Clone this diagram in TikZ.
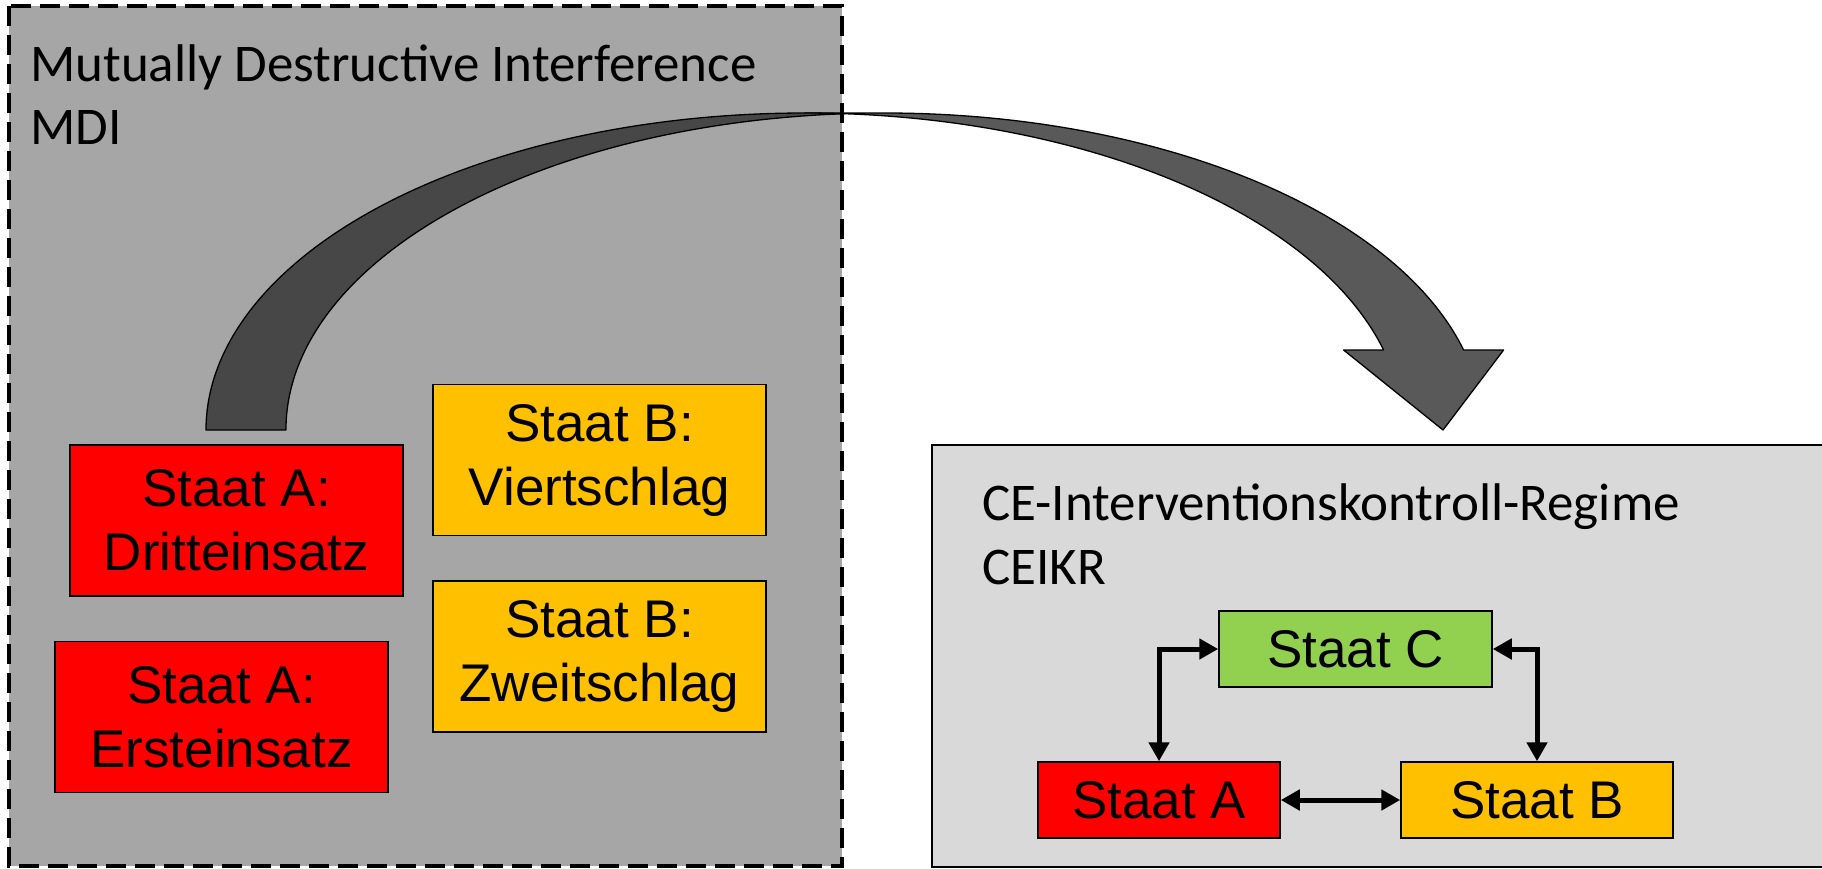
\documentclass[tikz,border=0pt]{standalone}
\usepackage{fontspec}
\setmainfont{Carlito}
\newfontfamily\arialfont{Liberation Sans}
\usetikzlibrary{arrows.meta}
\definecolor{mdigray}{HTML}{A6A6A6}
\definecolor{ceigray}{HTML}{D9D9D9}
\definecolor{staatred}{HTML}{FF0000}
\definecolor{staatyellow}{HTML}{FFC000}
\definecolor{staatgreen}{HTML}{92D050}
\definecolor{arrowfront}{HTML}{595959}
\definecolor{arrowback}{HTML}{474747}
\begin{document}
\begin{tikzpicture}[x=1pt,y=-1pt,
  statebox/.style={draw=black, line width=1.5pt, inner sep=0pt, align=center, font=\arialfont\fontsize{53}{64}\selectfont},
  bigbox/.style={statebox, minimum width=333pt, minimum height=151pt},
  smallbox/.style={statebox, minimum height=76pt},
  titletext/.style={anchor=base west, inner sep=0pt, font=\fontsize{53}{64}\selectfont},
  conn/.style={line width=5pt, {Triangle[length=19pt,width=20pt]}-{Triangle[length=19pt,width=20pt]}},
  bandedge/.style={draw=black, line width=1.3pt, line join=round}
]
\useasboundingbox (0,0) rectangle (1822,868);

% left region
\draw[fill=mdigray, line width=3.5pt, dash pattern=on 20pt off 9pt] (9,6) rectangle (842,866);
\node[titletext] (mdiname) at (30,81) {Mutually Destructive Interference};
\node[titletext] (mdiabbr) at (30,144) {MDI};

\node[bigbox, fill=staatred] (adritt) at (236.5,520.5) {Staat A:\\Dritteinsatz};
\node[bigbox, fill=staatred] (aerst) at (221.5,717) {Staat A:\\Ersteinsatz};
\node[bigbox, fill=staatyellow] (bviert) at (599.5,460) {Staat B:\\Viertschlag};
\node[bigbox, fill=staatyellow] (bzweit) at (599.5,656.5) {Staat B:\\Zweitschlag};

% right region
\fill[ceigray] (932,445) rectangle (1822,867);
\draw[black, line width=2pt] (1822,445) -- (932,445) -- (932,867) -- (1822,867);
\node[titletext] (ceiname) at (982,520) {CE-Interventionskontroll-Regime};
\node[titletext] (ceiabbr) at (982,584) {CEIKR};

\node[smallbox, fill=staatgreen, minimum width=273pt] (sc) at (1355.5,649) {Staat C};
\node[smallbox, fill=staatred, minimum width=242pt] (sa) at (1159,800) {Staat A};
\node[smallbox, fill=staatyellow, minimum width=272pt] (sb) at (1537,800) {Staat B};

\draw[conn] (sa.north) |- (sc.west);
\draw[conn] (sb.north) |- (sc.east);
\draw[conn] (sa.east) -- (sb.west);

% curved arrow
\path[fill=arrowfront, bandedge] (1443,430) -- (1343.6,350) -- (1383.6,350)
  arc[start angle=345.38, end angle=270, x radius=598.5, y radius=317]
  -- (884.5,113)
  arc[start angle=270, end angle=345.38, x radius=598.5, y radius=317]
  -- (1503.6,350) -- cycle;
\path[fill=arrowback, bandedge] (206,430)
  arc[start angle=180, end angle=273.83, x radius=598.5, y radius=317]
  arc[start angle=266.17, end angle=180, x radius=598.5, y radius=317]
  -- cycle;
\end{tikzpicture}
\end{document}
